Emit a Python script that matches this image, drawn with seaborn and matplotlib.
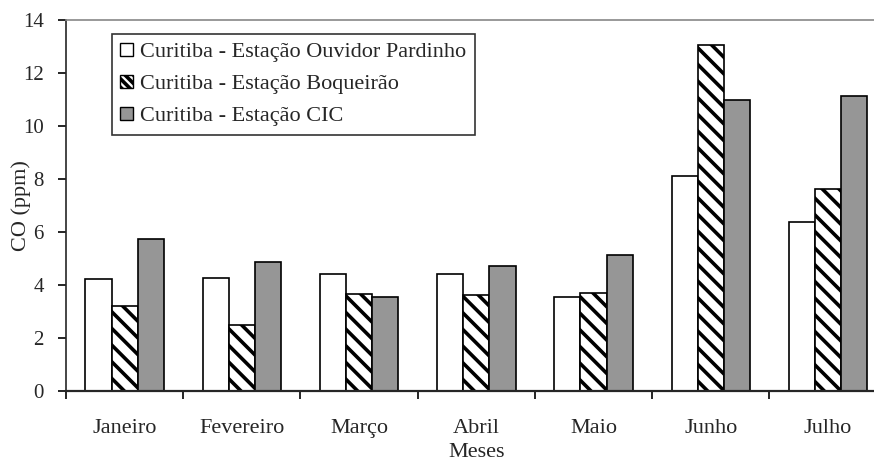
import matplotlib
matplotlib.use("Agg")
import matplotlib.pyplot as plt
import seaborn as sns
import pandas as pd
import numpy as np

# Daten
meses = ["Janeiro", "Fevereiro", "Março", "Abril", "Maio", "Junho", "Julho"]
estacoes = ["Curitiba - Estação Ouvidor Pardinho",
            "Curitiba - Estação Boqueirão",
            "Curitiba - Estação CIC"]
ouvidor_pardinho = [4.21, 4.26, 4.40, 4.40, 3.55, 8.10, 6.39]
boqueirao = [3.21, 2.50, 3.65, 3.62, 3.69, 13.06, 7.63]
cic = [5.75, 4.86, 3.55, 4.73, 5.12, 11.00, 11.12]
y_ticks = [0, 2, 4, 6, 8, 10, 12, 14]

df = pd.DataFrame({
    "mes": meses * 3,
    "estacao": [estacoes[0]] * 7 + [estacoes[1]] * 7 + [estacoes[2]] * 7,
    "co": ouvidor_pardinho + boqueirao + cic,
})

sns.set_style("ticks")
plt.rcParams['font.family'] = ['Liberation Serif', 'DejaVu Serif']
plt.rcParams['hatch.linewidth'] = 2.6
plt.rcParams['font.size'] = 16

fig = plt.figure(figsize=(8.74, 4.68), dpi=100)
ax = fig.add_axes([0.0755, 0.1645, 0.939, 0.7925])

cores = ["white", "white", "#969696"]
ax = sns.barplot(data=df, x="mes", y="co", hue="estacao", order=meses,
                 hue_order=estacoes, palette=cores, width=0.67,
                 edgecolor="black", linewidth=1.2, saturation=1, ax=ax)

# Schraffur fuer Boqueirao
for bar in ax.containers[1]:
    bar.set_hatch("\\\\")

ax.set_ylim(0, 14)
ax.set_xlim(-0.5, 6.5)
ax.set_yticks(y_ticks)
ax.set_ylabel("CO (ppm)", fontsize=16)
ax.yaxis.set_label_coords(-0.043, 0.5)
ax.set_xlabel("Meses", fontsize=16, labelpad=4)

ax.set_xticks(np.arange(-0.5, 7, 1), minor=True)
ax.tick_params(axis='x', which='major', length=0, pad=20, labelsize=16)
ax.tick_params(axis='x', which='minor', length=6, width=1.2, color='black')
ax.tick_params(axis='y', length=6, width=1.2, labelsize=15, color='black', pad=10)

ax.spines['top'].set_color('#888888')
ax.spines['top'].set_linewidth(1.2)
ax.spines['right'].set_visible(False)
ax.spines['left'].set_linewidth(1.2)
ax.spines['bottom'].set_linewidth(1.6)

leg = ax.legend(loc='upper left', bbox_to_anchor=(0.056, 0.962), frameon=True,
                fancybox=False, edgecolor='black', fontsize=16,
                handlelength=0.55, handleheight=0.55, handletextpad=0.35,
                labelspacing=0.56, borderpad=0.38, borderaxespad=0)
leg.get_frame().set_linewidth(1.2)
for h in leg.legend_handles:
    h.set_edgecolor('black')
    h.set_linewidth(1.0)
leg.legend_handles[1].set_hatch("\\\\\\\\")

fig.savefig("out.png", dpi=100)
